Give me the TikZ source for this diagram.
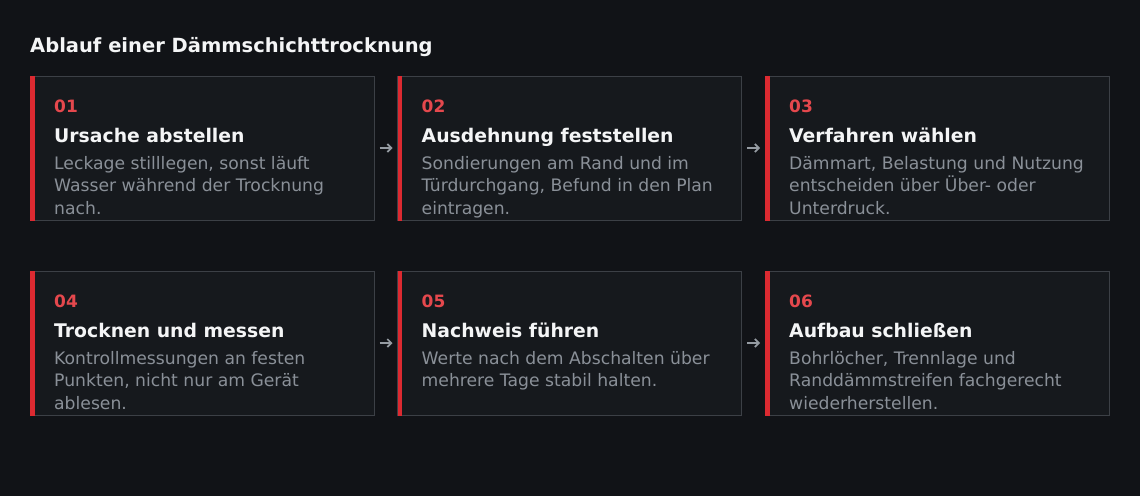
\documentclass[tikz,border=0pt]{standalone}
\usepackage{fontspec}
\setmainfont{DejaVu Sans}
\usetikzlibrary{arrows.meta}
\definecolor{bgc}{HTML}{111317}
\definecolor{cardfill}{HTML}{16191D}
\definecolor{cardline}{HTML}{3C4046}
\definecolor{accent}{HTML}{DC2A31}
\definecolor{numc}{HTML}{E5484D}
\definecolor{titlec}{HTML}{F4F5F6}
\definecolor{descc}{HTML}{8A9098}
\definecolor{arrc}{HTML}{959BA2}
\tikzset{
  cardbox/.style={draw=cardline, line width=1pt, fill=cardfill, minimum width=344pt, minimum height=144pt, inner sep=0pt},
  numtxt/.style={anchor=base west, inner sep=0pt, text=numc, font=\fontsize{17}{20}\selectfont\bfseries},
  titletxt/.style={anchor=base west, inner sep=0pt, text=titlec, font=\fontsize{18.8}{22}\selectfont\bfseries},
  desctxt/.style={anchor=base west, inner sep=0pt, text=descc, font=\fontsize{17.2}{22.7}\selectfont},
  headtxt/.style={anchor=base west, inner sep=0pt, text=titlec, font=\fontsize{19.5}{23}\selectfont\bfseries},
  conn/.style={draw=arrc, line width=1.7pt, -{Straight Barb[length=4pt,width=8pt]}}
}
\newcommand{\stepcard}[6]{%
  \begin{scope}[shift={(#2,#3)}]
    \node[cardbox] (#1) at (172,72) {};
    \fill[accent] (0,-0.5) rectangle (4.5,144.5);
    \node[numtxt] (#1n) at (24,36.5) {#4};
    \node[titletxt] (#1t) at (24,66) {#5};
    \node[desctxt] (#1d) at (24,93) {\parbox[t]{330pt}{#6}};
  \end{scope}}
\begin{document}
\begin{tikzpicture}[x=1pt,y=-1pt]
  \fill[bgc] (0,0) rectangle (1140,496);
  \useasboundingbox (0,0) rectangle (1140,496);
  \node[headtxt] (head) at (30,52) {Ablauf einer Dämmschichttrocknung};
  \stepcard{c1}{30}{76}{01}{Ursache abstellen}{Leckage stilllegen, sonst läuft\\Wasser während der Trocknung\\nach.}
  \stepcard{c2}{397.5}{76}{02}{Ausdehnung feststellen}{Sondierungen am Rand und im\\Türdurchgang, Befund in den Plan\\eintragen.}
  \stepcard{c3}{765}{76}{03}{Verfahren wählen}{Dämmart, Belastung und Nutzung\\entscheiden über Über- oder\\Unterdruck.}
  \stepcard{c4}{30}{271}{04}{Trocknen und messen}{Kontrollmessungen an festen\\Punkten, nicht nur am Gerät\\ablesen.}
  \stepcard{c5}{397.5}{271}{05}{Nachweis führen}{Werte nach dem Abschalten über\\mehrere Tage stabil halten.}
  \stepcard{c6}{765}{271}{06}{Aufbau schließen}{Bohrlöcher, Trennlage und\\Randdämmstreifen fachgerecht\\wiederherstellen.}
  \draw[conn] ([xshift=5pt]c1.east) -- ([xshift=-4.5pt]c2.west);
  \draw[conn] ([xshift=5pt]c2.east) -- ([xshift=-4.5pt]c3.west);
  \draw[conn] ([xshift=5pt]c4.east) -- ([xshift=-4.5pt]c5.west);
  \draw[conn] ([xshift=5pt]c5.east) -- ([xshift=-4.5pt]c6.west);
\end{tikzpicture}
\end{document}
